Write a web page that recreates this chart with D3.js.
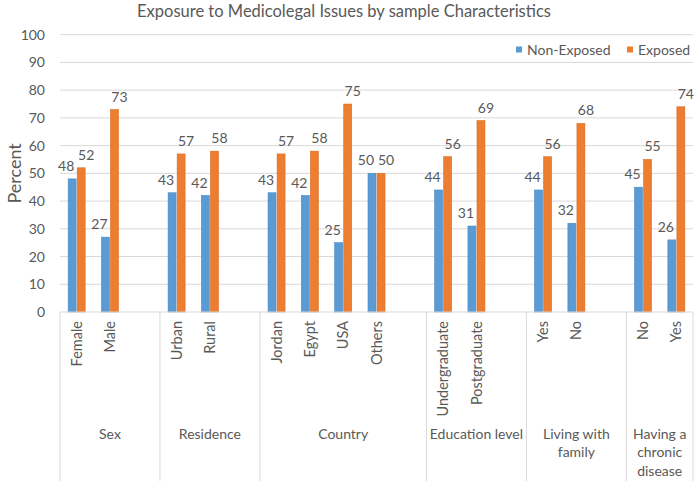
<!DOCTYPE html>
<html>
<head>
<meta charset="utf-8">
<script src="https://cdn.jsdelivr.net/npm/d3@7"></script>
<style>
  body { margin: 0; background: #fff; }
  text { font-family: Lato, "Open Sans", sans-serif; fill: #595959; }
</style>
</head>
<body>
<div id="chart"></div>
<script>
// chart data
const groups = ["Sex", "Residence", "Country", "Education level", "Living with family", "Having a chronic disease"];
const groupLines = [["Sex"], ["Residence"], ["Country"], ["Education level"], ["Living with", "family"], ["Having a", "chronic", "disease"]];
const categories = [
  ["Female", "Male"],
  ["Urban", "Rural"],
  ["Jordan", "Egypt", "USA", "Others"],
  ["Undergraduate", "Postgraduate"],
  ["Yes", "No"],
  ["No", "Yes"]
];
const nonExposed = [48, 27, 43, 42, 43, 42, 25, 50, 44, 31, 44, 32, 45, 26];
const exposed = [52, 73, 57, 58, 57, 58, 75, 50, 56, 69, 56, 68, 55, 74];
const series = ["Non-Exposed", "Exposed"];
const yTicks = [0, 10, 20, 30, 40, 50, 60, 70, 80, 90, 100];

const W = 696, H = 481;
const margin = { top: 34.7, right: 3, bottom: 169, left: 60 };
const width = W - margin.left - margin.right;
const height = H - margin.top - margin.bottom;
const colors = { "Non-Exposed": "#5b9bd5", "Exposed": "#ed7d31" };
const strokes = { "Non-Exposed": "#4a89c2", "Exposed": "#d96c22" };

// build slots: each group's categories, plus a blank slot between groups
const slots = [];
const rows = [];
let k = 0;
categories.forEach((cats, gi) => {
  const start = slots.length;
  cats.forEach(c => {
    const id = "s" + slots.length;
    slots.push(id);
    rows.push({ id: id, label: c, group: gi, "Non-Exposed": nonExposed[k], "Exposed": exposed[k] });
    k++;
  });
  if (gi < categories.length - 1) slots.push("s" + slots.length);
  groups[gi] = { name: groups[gi], start: start, end: slots.length };
});

const svg = d3.select("#chart").append("svg")
  .attr("width", W).attr("height", H);

svg.append("text")
  .attr("x", W / 2 - 4).attr("y", 17)
  .attr("text-anchor", "middle")
  .style("font-size", "16.5px")
  .text("Exposure to Medicolegal Issues by sample Characteristics");

const g = svg.append("g").attr("transform", `translate(${margin.left},${margin.top})`);

const x = d3.scaleBand().domain(slots).range([0, width]).padding(0);
const x1 = d3.scaleBand().domain(series).range([x.bandwidth() / 2 - 8.5, x.bandwidth() / 2 + 8.5]).paddingInner(0.12);
const y = d3.scaleLinear().domain([0, 100]).range([height, 0]);

// gridlines
g.append("g").selectAll("line").data(yTicks.filter(d => d > 0)).join("line")
  .attr("x1", 0).attr("x2", width)
  .attr("y1", d => y(d)).attr("y2", d => y(d))
  .attr("stroke", "#d9d9d9").attr("stroke-width", 1);

// y axis labels
const yAxis = g.append("g")
  .call(d3.axisLeft(y).tickValues(yTicks).tickSize(0).tickPadding(15));
yAxis.select(".domain").remove();
yAxis.selectAll("text").style("font-size", "14px").attr("fill", "#595959");

svg.append("text")
  .attr("transform", `translate(21,${margin.top + height / 2}) rotate(-90)`)
  .attr("text-anchor", "middle")
  .style("font-size", "18px")
  .text("Percent");

// bars
const cat = g.selectAll("g.cat").data(rows).join("g")
  .attr("class", "cat")
  .attr("transform", d => `translate(${x(d.id)},0)`);

cat.selectAll("rect").data(d => series.map(s => ({ s: s, v: d[s] }))).join("rect")
  .attr("x", d => x1(d.s))
  .attr("y", d => y(d.v))
  .attr("width", x1.bandwidth())
  .attr("height", d => height - y(d.v))
  .attr("fill", d => colors[d.s])
  .attr("stroke", d => strokes[d.s])
  .attr("stroke-width", 0.6);

cat.selectAll("text.val").data(d => series.map(s => ({ s: s, v: d[s] }))).join("text")
  .attr("class", "val")
  .attr("x", d => x1(d.s) + x1.bandwidth() / 2 + (d.s === "Exposed" ? 5 : -6))
  .attr("y", d => y(d.v) - 8)
  .attr("text-anchor", "middle")
  .style("font-size", "14px")
  .attr("fill", "#404040")
  .text(d => d.v);

// x axis line and separators
const sepX = [0].concat(groups.map(gr => x.step() * gr.end));
g.append("line")
  .attr("x1", 0).attr("x2", width).attr("y1", height).attr("y2", height)
  .attr("stroke", "#d9d9d9");
g.append("g").selectAll("line").data(sepX).join("line")
  .attr("x1", d => d).attr("x2", d => d)
  .attr("y1", height).attr("y2", H - margin.top)
  .attr("stroke", "#d9d9d9");

// category labels
g.append("g").selectAll("text").data(rows).join("text")
  .attr("transform", d => `translate(${x(d.id) + x.bandwidth() / 2},${height + 9}) rotate(-90)`)
  .attr("text-anchor", "end")
  .attr("dy", "0.35em")
  .style("font-size", "14.5px")
  .text(d => d.label);

// group labels
groups.forEach((gr, gi) => {
  const cx = (x.step() * gr.start + x.step() * gr.end) / 2;
  const t = g.append("text")
    .attr("x", cx).attr("y", 404)
    .attr("text-anchor", "middle")
    .style("font-size", "14px");
  groupLines[gi].forEach((ln, li) => {
    t.append("tspan").attr("x", cx).attr("dy", li === 0 ? 0 : 18.5).text(ln);
  });
});

// legend
const legend = svg.append("g");
const legendX = [516, 627];
series.forEach((s, i) => {
  legend.append("rect")
    .attr("x", legendX[i]).attr("y", 46.5)
    .attr("width", 6).attr("height", 6)
    .attr("fill", colors[s]);
  legend.append("text")
    .attr("x", legendX[i] + 11).attr("y", 50)
    .attr("dy", "0.35em")
    .style("font-size", "14px")
    .text(s);
});
</script>
</body>
</html>
